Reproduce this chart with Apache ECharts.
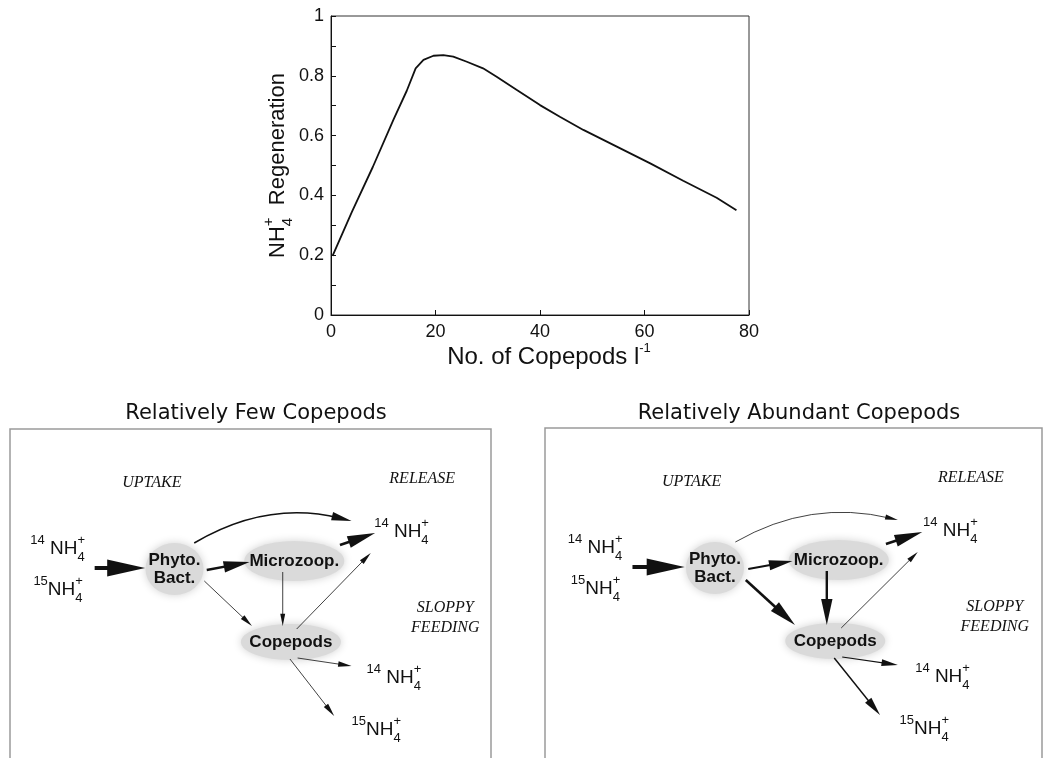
<!DOCTYPE html>
<html>
<head>
<meta charset="utf-8">
<script src="https://cdn.jsdelivr.net/npm/echarts@6/dist/echarts.min.js"></script>
<style>
html,body{margin:0;padding:0;background:#fff;}
#c{width:1045px;height:758px;}
</style>
</head>
<body>
<div id="c"></div>
<script>
// ---------------- Line chart data ----------------
const copepodsPerLitre = [0.3, 4, 8, 12, 14.5, 16.2, 17.7, 19.6, 21.5, 23.4, 26, 29.1, 31.7, 35.5, 40, 43.8, 48.3, 54.7, 61.1, 67.4, 73.8, 77.6];
const nh4Regeneration  = [0.198, 0.345, 0.495, 0.655, 0.75, 0.825, 0.853, 0.867, 0.869, 0.864, 0.847, 0.825, 0.797, 0.753, 0.702, 0.663, 0.619, 0.563, 0.507, 0.449, 0.392, 0.35];

// ---------------- Diagram data ----------------
const panelTitles = ['Relatively Few Copepods', 'Relatively Abundant Copepods'];
const pathways = ['NH4+ uptake', 'Phyto/Bact -> Microzoop', 'Phyto/Bact -> release', 'Microzoop -> release',
                  'Microzoop -> Copepods', 'Phyto/Bact -> Copepods', 'Copepods -> release',
                  'Copepods -> 14NH4 (sloppy)', 'Copepods -> 15NH4 (sloppy)'];
// relative arrow strength for each pathway
const fluxFewCopepods      = [5, 3, 2, 3.3, 0.7, 0.8, 0.8, 0.9, 0.9];
const fluxAbundantCopepods = [5, 2.6, 0.8, 3.3, 3, 3.2, 0.7, 1.4, 1.8];
const compartments = ['Phyto.\nBact.', 'Microzoop.', 'Copepods'];
const headings = ['UPTAKE', 'RELEASE', 'SLOPPY\nFEEDING'];
const isotopes = ['14', '15', '14', '14', '15'];

// ---------------- Diagram layout (x: % of panel width, y: px from panel top) ----------------
const compartmentLayout = [[34.2, 140], [59.1, 132], [58.4, 213]];
const compartmentSize = [[58, 52], [100, 40], [100, 36]];
const headingLayout = [[29.5, 54], [85.7, 50], [90.5, 189]];
const isotopeLayout = [[15.6, 120], [15.15, 161], [87.1, 103], [85.5, 249], [81.3, 301]];
// [x1, y1, x2, y2, ctrlX, ctrlY]
const arrowLayout = [
  [17.6, 139, 28.1, 139],
  [40.9, 141, 49.8, 133],
  [38.3, 114, 71.0, 92, 53.4, 71],
  [68.6, 116, 75.9, 104],
  [56.7, 143, 56.7, 197],
  [40.4, 152, 50.3, 197],
  [59.6, 200, 75.0, 124],
  [59.8, 229, 71.0, 237],
  [58.2, 230, 67.4, 287]
];

const SANS = 'Liberation Sans, Arial, Helvetica, sans-serif';
const SERIF = 'Liberation Serif, Times New Roman, serif';
const INK = '#111';

const chart = echarts.init(document.getElementById('c'), null, {renderer: 'canvas'});

function arrowSeries(gi, flux) {
  const data = arrowLayout.map((a, i) => [a[0], a[1], a[2], a[3],
      a.length > 4 ? a[4] : NaN, a.length > 4 ? a[5] : NaN, flux[i]]);
  return {
    type: 'custom', name: 'arrows' + gi, coordinateSystem: 'cartesian2d',
    xAxisIndex: gi, yAxisIndex: gi, data: data, silent: true, z: 3, clip: false,
    renderItem: function (params, api) {
      const s = api.coord([api.value(0), api.value(1)]);
      const e = api.coord([api.value(2), api.value(3)]);
      const cxv = api.value(4), cyv = api.value(5);
      const w = api.value(6);
      const curved = !isNaN(cxv);
      const c = curved ? api.coord([cxv, cyv]) : s;
      let dx = e[0] - c[0], dy = e[1] - c[1];
      const L = Math.hypot(dx, dy) || 1; dx /= L; dy /= L;
      const hl = 8 + 6 * w, hw = 3 + 2.8 * w, lw = Math.max(0.8, 0.8 * w);
      const b = [e[0] - dx * hl, e[1] - dy * hl];
      const nx = -dy, ny = dx;
      const se = [e[0] - dx * hl * 0.6, e[1] - dy * hl * 0.6];
      const shaft = curved
        ? {type: 'bezierCurve', shape: {x1: s[0], y1: s[1], x2: se[0], y2: se[1], cpx1: c[0], cpy1: c[1]},
           style: {stroke: INK, fill: 'none', lineWidth: lw}}
        : {type: 'line', shape: {x1: s[0], y1: s[1], x2: se[0], y2: se[1]},
           style: {stroke: INK, fill: 'none', lineWidth: lw}};
      const head = {type: 'polygon',
        shape: {points: [e, [b[0] + nx * hw / 2, b[1] + ny * hw / 2], [b[0] - nx * hw / 2, b[1] - ny * hw / 2]]},
        style: {fill: INK, stroke: 'none'}};
      return {type: 'group', children: [shaft, head]};
    }
  };
}

function compartmentSeries(gi) {
  return {
    type: 'scatter', name: 'comp' + gi, xAxisIndex: gi, yAxisIndex: gi, z: 2, silent: true,
    data: compartmentLayout.map((p, i) => ({value: p, name: compartments[i], symbolSize: compartmentSize[i]})),
    symbol: 'circle',
    itemStyle: {color: '#dadada', shadowBlur: 8, shadowColor: '#d2d2d2', opacity: 1},
    label: {show: true, position: 'inside', formatter: '{b}', color: INK, fontFamily: SANS,
            fontWeight: 'bold', fontSize: 17, lineHeight: 18},
    emphasis: {disabled: true}
  };
}

function headingSeries(gi) {
  return {
    type: 'custom', name: 'head' + gi, xAxisIndex: gi, yAxisIndex: gi, silent: true, z: 4, clip: false,
    data: headingLayout,
    renderItem: function (params, api) {
      const p = api.coord([api.value(0), api.value(1)]);
      return {type: 'text', x: p[0], y: p[1], style: {
        text: headings[params.dataIndex], fill: INK, fontFamily: SERIF, fontStyle: 'italic',
        fontSize: 16, lineHeight: 20, align: 'center', verticalAlign: 'middle'}};
    }
  };
}

const isoRich = {
  iso: {fontFamily: SANS, fontSize: 13, lineHeight: 14, verticalAlign: 'top', align: 'left', fill: INK},
  b:   {fontFamily: SANS, fontSize: 19, lineHeight: 30, align: 'left', fill: INK},
  sub: {fontFamily: SANS, fontSize: 13, lineHeight: 14, width: 0, verticalAlign: 'bottom', align: 'left', fill: INK},
  sup: {fontFamily: SANS, fontSize: 13, lineHeight: 14, verticalAlign: 'top', align: 'left', fill: INK}
};

function isotopeSeries(gi) {
  return {
    type: 'custom', name: 'iso' + gi, xAxisIndex: gi, yAxisIndex: gi, silent: true, z: 4, clip: false,
    data: isotopeLayout,
    renderItem: function (params, api) {
      const p = api.coord([api.value(0), api.value(1)]);
      const m = isotopes[params.dataIndex];
      const gap = m === '14' ? ' ' : '';
      return {type: 'text', x: p[0], y: p[1], style: {
        text: '{iso|' + m + '}{b|' + gap + 'NH}{sub|4}{sup|+}', rich: isoRich,
        fill: INK, fontFamily: SANS, fontSize: 19, align: 'right', verticalAlign: 'middle'}};
    }
  };
}

const diagAxisX = gi => ({type: 'value', gridIndex: gi, min: 0, max: 100, show: false});
const diagAxisY = gi => ({type: 'value', gridIndex: gi, min: 0, max: 340, inverse: true, show: false});

const option = {
  animation: false,
  backgroundColor: '#fff',
  grid: [
    {left: 331, top: 16, width: 418, height: 299, show: true, borderColor: '#333', borderWidth: 1,
     backgroundColor: '#fff', containLabel: false, outerBoundsMode: 'none'},
    {left: 10, top: 429, width: 481, height: 340, show: true, borderColor: '#9a9a9a', borderWidth: 1.5,
     backgroundColor: '#fff', containLabel: false, outerBoundsMode: 'none'},
    {left: 545, top: 428, width: 497, height: 340, show: true, borderColor: '#9a9a9a', borderWidth: 1.5,
     backgroundColor: '#fff', containLabel: false, outerBoundsMode: 'none'}
  ],
  xAxis: [
    {type: 'value', gridIndex: 0, min: 0, max: 80, interval: 20,
     axisLine: {show: true, onZero: false, lineStyle: {color: INK, width: 1}},
     axisTick: {show: true, inside: true, length: 5, lineStyle: {color: INK}},
     axisLabel: {fontFamily: SANS, fontSize: 18, color: INK, margin: 8},
     splitLine: {show: false},
     name: '{a|No. of Copepods l}{s|-1}', nameLocation: 'middle', nameGap: 27,
     nameTextStyle: {padding: [0, 0, 0, 18], rich: {
       a: {fontFamily: SANS, fontSize: 24, color: INK, lineHeight: 30, align: 'left'},
       s: {fontFamily: SANS, fontSize: 13, color: INK, lineHeight: 15, verticalAlign: 'top', align: 'left'}}}},
    diagAxisX(1), diagAxisX(2)
  ],
  yAxis: [
    {type: 'value', gridIndex: 0, min: 0, max: 1, interval: 0.2,
     axisLine: {show: true, onZero: false, lineStyle: {color: INK, width: 1}},
     axisTick: {show: true, inside: true, length: 5, lineStyle: {color: INK}},
     minorTick: {show: true, splitNumber: 2, length: 5, lineStyle: {color: INK}},
     axisLabel: {fontFamily: SANS, fontSize: 18, color: INK, margin: 7},
     splitLine: {show: false}, minorSplitLine: {show: false},
     name: '{b|NH}{sub|4}{sup|+}{b|  Regeneration}', nameLocation: 'middle', nameRotate: 90, nameGap: 33,
     nameTextStyle: {rich: {
       b: {fontFamily: SANS, fontSize: 22, color: INK, lineHeight: 34, align: 'left'},
       sub: {fontFamily: SANS, fontSize: 15, color: INK, lineHeight: 15, width: 0, verticalAlign: 'bottom', align: 'left'},
       sup: {fontFamily: SANS, fontSize: 15, color: INK, lineHeight: 15, verticalAlign: 'top', align: 'left'}}}},
    diagAxisY(1), diagAxisY(2)
  ],
  graphic: [
    {type: 'text', x: 256, y: 414, silent: true, style: {text: panelTitles[0], fill: INK,
      font: '21px "DejaVu Sans", sans-serif', align: 'center', verticalAlign: 'middle'}},
    {type: 'text', x: 799, y: 414, silent: true, style: {text: panelTitles[1], fill: INK,
      font: '21px "DejaVu Sans", sans-serif', align: 'center', verticalAlign: 'middle'}}
  ],
  series: [
    {type: 'line', xAxisIndex: 0, yAxisIndex: 0, showSymbol: false, symbol: 'none', silent: true,
     data: copepodsPerLitre.map((x, i) => [x, nh4Regeneration[i]]),
     lineStyle: {color: INK, width: 1.8}, itemStyle: {color: INK}},
    compartmentSeries(1), arrowSeries(1, fluxFewCopepods), headingSeries(1), isotopeSeries(1),
    compartmentSeries(2), arrowSeries(2, fluxAbundantCopepods), headingSeries(2), isotopeSeries(2)
  ]
};
chart.setOption(option);
</script>
</body>
</html>
